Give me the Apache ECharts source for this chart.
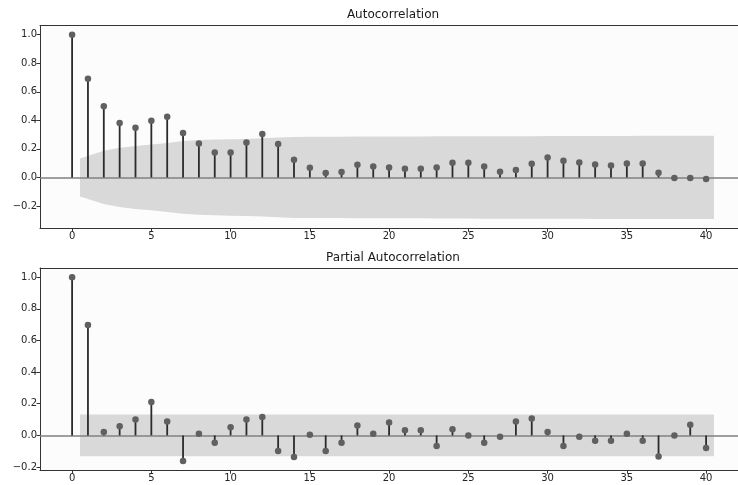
<!DOCTYPE html>
<html><head><meta charset="utf-8">
<script src="https://cdn.jsdelivr.net/npm/echarts@6/dist/echarts.min.js"></script>
<style>html,body{margin:0;padding:0;background:#fff}#c{width:738px;height:485px}</style>
</head><body><div id="c"></div>
<script>
// ---- data ----
const lags = [0,1,2,3,4,5,6,7,8,9,10,11,12,13,14,15,16,17,18,19,20,21,22,23,24,25,26,27,28,29,30,31,32,33,34,35,36,37,38,39,40];
const acfValues = [1.0,0.692,0.498,0.381,0.348,0.397,0.425,0.311,0.238,0.175,0.175,0.245,0.304,0.234,0.124,0.068,0.031,0.038,0.089,0.077,0.070,0.061,0.061,0.070,0.103,0.103,0.077,0.040,0.052,0.096,0.140,0.117,0.105,0.091,0.084,0.098,0.098,0.033,-0.004,-0.004,-0.011];
const pacfValues = [1.0,0.697,0.021,0.057,0.101,0.211,0.088,-0.162,0.011,-0.046,0.051,0.101,0.116,-0.098,-0.136,0.004,-0.098,-0.046,0.063,0.011,0.082,0.032,0.032,-0.067,0.038,0.0,-0.046,-0.008,0.088,0.107,0.021,-0.067,-0.008,-0.034,-0.034,0.011,-0.034,-0.133,0.0,0.067,-0.080];
const bandLags = [0.5,2,3,4,5,6,7,8,9,10,11,12,13,14,15,16,17,18,19,20,21,22,23,24,25,26,27,28,29,30,31,32,33,34,35,36,37,38,39,40.5];
const acfBand = [0.133,0.186,0.208,0.221,0.230,0.242,0.255,0.262,0.266,0.268,0.270,0.274,0.280,0.284,0.285,0.285,0.285,0.286,0.286,0.287,0.287,0.287,0.288,0.288,0.288,0.289,0.289,0.289,0.289,0.290,0.290,0.290,0.291,0.291,0.291,0.292,0.292,0.292,0.292,0.292];
const pacfBand = [0.132,0.132,0.132,0.132,0.132,0.132,0.132,0.132,0.132,0.132,0.132,0.132,0.132,0.132,0.132,0.132,0.132,0.132,0.132,0.132,0.132,0.132,0.132,0.132,0.132,0.132,0.132,0.132,0.132,0.132,0.132,0.132,0.132,0.132,0.132,0.132,0.132,0.132,0.132,0.132];
const xTicks = [0,5,10,15,20,25,30,35,40];
const yTicks = [-0.2,0.0,0.2,0.4,0.6,0.8,1.0];
const titles = ['Autocorrelation','Partial Autocorrelation'];

// ---- chart ----
const FONT = 'DejaVu Sans';
const X_MIN = -2.025, X_MAX = 42.013;
const chart = echarts.init(document.getElementById('c'), null, {renderer:'canvas'});
const fmtY = v => (v < 0 ? '\u2212' : '') + Math.abs(v).toFixed(1);

function xAxis(gi){
  return {type:'value', gridIndex:gi, min:X_MIN, max:X_MAX, position:'bottom',
    axisLine:{show:true, onZero:false, lineStyle:{color:'#333', width:1}},
    axisTick:{show:true, length:3.5, customValues:xTicks, lineStyle:{color:'#333'}},
    axisLabel:{customValues:xTicks, color:'#262626', fontFamily:FONT, fontSize:10, margin:3},
    splitLine:{show:false}};
}
function xAxisTop(gi){
  return {type:'value', gridIndex:gi, min:X_MIN, max:X_MAX, position:'top',
    axisLine:{show:true, onZero:false, lineStyle:{color:'#333', width:1}},
    axisTick:{show:false}, axisLabel:{show:false}, splitLine:{show:false}};
}
function yAxis(gi, min, max){
  return {type:'value', gridIndex:gi, min:min, max:max,
    axisLine:{show:true, onZero:false, lineStyle:{color:'#333', width:1}},
    axisTick:{show:true, length:3.5, customValues:yTicks, lineStyle:{color:'#333'}},
    axisLabel:{customValues:yTicks, formatter:fmtY, color:'#262626', fontFamily:FONT, fontSize:10, margin:3},
    splitLine:{show:false}};
}
function bandSeries(gi, band){
  return {type:'custom', xAxisIndex:gi, yAxisIndex:gi, z:1, silent:true,
    data: bandLags.map((x,i)=>[x, band[i]]),
    renderItem:(params, api)=>{
      if (params.dataIndex !== 0) return null;
      const pts = [];
      for (let i=0;i<bandLags.length;i++) pts.push(api.coord([bandLags[i], band[i]]));
      for (let i=bandLags.length-1;i>=0;i--) pts.push(api.coord([bandLags[i], -band[i]]));
      return {type:'polygon', shape:{points:pts}, style:{fill:'#d9d9d9'}};
    }};
}
function stemSeries(gi, vals){
  return {type:'custom', xAxisIndex:gi, yAxisIndex:gi, z:3, silent:true,
    data: lags.map((x,i)=>[x, vals[i]]),
    renderItem:(params, api)=>{
      const p0 = api.coord([api.value(0), 0]);
      const p1 = api.coord([api.value(0), api.value(1)]);
      return {type:'line', shape:{x1:p0[0], y1:p0[1], x2:p1[0], y2:p1[1]},
        style:{stroke:'#2b2b2b', lineWidth:1.8}};
    }};
}
function markerSeries(gi, vals){
  return {type:'scatter', xAxisIndex:gi, yAxisIndex:gi, z:4, silent:true,
    symbol:'circle', symbolSize:6.5,
    itemStyle:{color:'#606060', opacity:1},
    data: lags.map((x,i)=>[x, vals[i]]),
    markLine:{silent:true, symbol:'none', z:2, animation:false,
      lineStyle:{color:'#808080', width:1.6, type:'solid'}, label:{show:false},
      data:[{yAxis:0}]}};
}

chart.setOption({
  animation:false,
  backgroundColor:'#ffffff',
  grid:[
    {left:40, top:25.5, width:698, height:202.8, show:true, backgroundColor:'#fcfcfc', borderWidth:0, containLabel:false},
    {left:40, top:268, width:698, height:202.2, show:true, backgroundColor:'#fcfcfc', borderWidth:0, containLabel:false}
  ],
  xAxis:[xAxis(0), xAxis(1), xAxisTop(0), xAxisTop(1)],
  yAxis:[yAxis(0, -0.3566, 1.0646), yAxis(1, -0.2201, 1.0581)],
  graphic:[
    {type:'text', x:393, y:14.5, style:{text:titles[0], fill:'#1a1a1a', font:'12px "DejaVu Sans"', textAlign:'center', textVerticalAlign:'middle'}},
    {type:'text', x:393, y:257.5, style:{text:titles[1], fill:'#1a1a1a', font:'12px "DejaVu Sans"', textAlign:'center', textVerticalAlign:'middle'}}
  ],
  series:[
    bandSeries(0, acfBand), stemSeries(0, acfValues), markerSeries(0, acfValues),
    bandSeries(1, pacfBand), stemSeries(1, pacfValues), markerSeries(1, pacfValues)
  ]
});
</script>
</body></html>
